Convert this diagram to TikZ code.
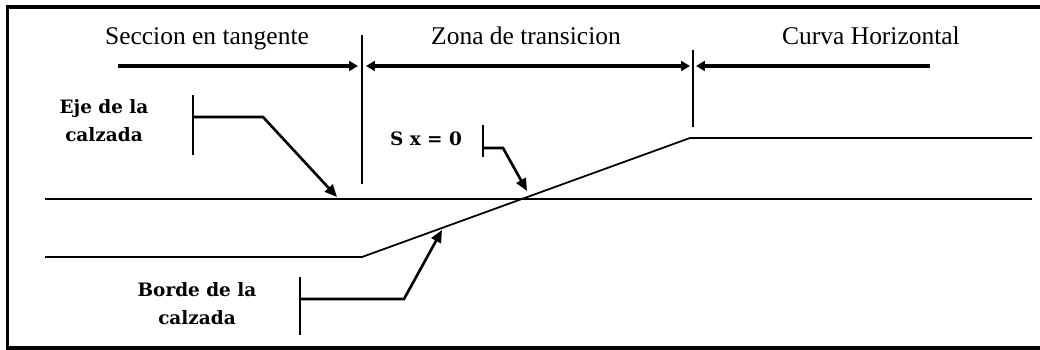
\documentclass[tikz,border=0pt]{standalone}
\usepackage{fontspec}
\setmainfont{Liberation Serif}
\newfontfamily\lblfont{DejaVu Serif}
\usetikzlibrary{arrows.meta}
\begin{document}
\begin{tikzpicture}[x=0.02cm,y=-0.02cm,
  frame/.style={line width=2pt},
  road/.style={line width=1pt},
  dimline/.style={line width=1.8pt},
  headR/.style={-{Triangle[length=5pt,width=5.5pt]}},
  headL/.style={{Triangle[length=5pt,width=5.5pt]}-},
  headB/.style={{Triangle[length=5pt,width=5.5pt]}-{Triangle[length=5pt,width=5.5pt]}},
  leader/.style={line width=1.5pt, -{Triangle[length=7pt,width=6pt]}},
  ttl/.style={font=\fontsize{14.5}{17}\selectfont, anchor=base, inner sep=0},
  lbl/.style={font=\lblfont\bfseries\fontsize{10.5}{16}\selectfont, align=center, inner sep=0}]
\useasboundingbox (0,0) rectangle (1040,350);
% frame
\coordinate (fTR) at (1040,7);
\coordinate (fTL) at (7.5,7);
\coordinate (fBL) at (7.5,348);
\coordinate (fBR) at (1040,348);
\draw[frame] (fTR) -- (fTL) -- (fBL) -- (fBR);
% titles
\node[ttl] (t1) at (207,45) {Seccion en tangente};
\node[ttl] (t2) at (526,45) {Zona de transicion};
\node[ttl] (t3) at (871,45) {Curva Horizontal};
% vertical limits
\coordinate (v1t) at (362,35);
\coordinate (v1b) at (362,184);
\coordinate (v2t) at (693,50);
\coordinate (v2b) at (693,127);
\draw[road] (v1t) -- (v1b);
\draw[road] (v2t) -- (v2b);
% dimension arrows
\coordinate (d1s) at (118,66);
\coordinate (d1e) at (358,66);
\coordinate (d2s) at (366,66);
\coordinate (d2e) at (690,66);
\coordinate (d3s) at (696,66);
\coordinate (d3e) at (930,66);
\draw[dimline,headR] (d1s) -- (d1e);
\draw[dimline,headB] (d2s) -- (d2e);
\draw[dimline,headL] (d3s) -- (d3e);
% road lines
\coordinate (axL) at (45,199);
\coordinate (axR) at (1032,199);
\coordinate (beL) at (45,257);
\coordinate (beK) at (362,257);
\coordinate (beT) at (690,138);
\coordinate (beR) at (1032,138);
\draw[road] (axL) -- (axR);
\draw[road] (beL) -- (beK) -- (beT) -- (beR);
% labels
\node[lbl] (eje) at (104,121) {Eje de la\\calzada};
\node[lbl] (sx) at (426,139) {S x = 0};
\node[lbl] (borde) at (197,304) {Borde de la\\calzada};
% leader: eje
\coordinate (e1) at (193,95);
\coordinate (e2) at (193,155);
\coordinate (e3) at (193,117);
\coordinate (e4) at (263,117);
\coordinate (e5) at (337,197);
\draw[road] (e1) -- (e2);
\draw[leader] (e3) -- (e4) -- (e5);
% leader: sx
\coordinate (s1) at (483,125);
\coordinate (s2) at (483,157);
\coordinate (s3) at (483,148);
\coordinate (s4) at (503,148);
\coordinate (s5) at (527,191);
\draw[road] (s1) -- (s2);
\draw[leader] (s3) -- (s4) -- (s5);
% leader: borde
\coordinate (b1) at (300,277);
\coordinate (b2) at (300,335);
\coordinate (b3) at (300,299);
\coordinate (b4) at (404,299);
\coordinate (b5) at (442,230);
\draw[road] (b1) -- (b2);
\draw[leader] (b3) -- (b4) -- (b5);
\end{tikzpicture}
\end{document}
